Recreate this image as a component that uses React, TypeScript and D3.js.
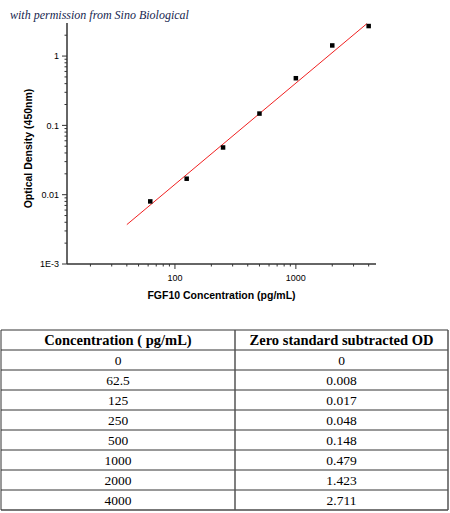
import * as React from 'react';
import * as d3 from 'd3';

// standard curve values (pg/mL vs OD)
const concentrations = [0, 62.5, 125, 250, 500, 1000, 2000, 4000];
const odValues = [0, 0.008, 0.017, 0.048, 0.148, 0.479, 1.423, 2.711];
const concLabels = ['0', '62.5', '125', '250', '500', '1000', '2000', '4000'];
const odLabels = ['0', '0.008', '0.017', '0.048', '0.148', '0.479', '1.423', '2.711'];
const tableHeaders = ['Concentration ( pg/mL)', 'Zero standard subtracted OD'];

// fitted line endpoints
const fitConc = [40, 3880];
const fitOd = [0.0037, 2.95];

const yMajorTicks = [0.001, 0.01, 0.1, 1];
const yTickLabels = ['1E-3', '0.01', '0.1', '1'];
const xMajorTicks = [100, 1000];
const xTickLabels = ['100', '1000'];

const W = 450;
const H = 513;
const plot = { left: 67, right: 376, top: 23, bottom: 264 };
const table = { left: 1, right: 448, top: 330, rowH: 20, split: 235 };

const sans = '"Liberation Sans", Arial, sans-serif';
const serif = '"Liberation Serif", "Times New Roman", serif';

export default function App() {
    const x = d3.scaleLog().domain([12.8, 4600]).range([plot.left, plot.right]);
    const y = d3.scaleLog().domain([0.001, 3]).range([plot.bottom, plot.top]);

    const xMinor: number[] = [];
    [10, 100, 1000].forEach(base => {
        for (let k = 2; k <= 9; k++) {
            const v = base * k;
            if (v > x.domain()[0] && v < x.domain()[1]) xMinor.push(v);
        }
    });
    const yMinor: number[] = [];
    [0.001, 0.01, 0.1, 1].forEach(base => {
        for (let k = 2; k <= 9; k++) {
            const v = base * k;
            if (v < y.domain()[1]) yMinor.push(v);
        }
    });

    const points = concentrations
        .map((c, i) => ({ c, od: odValues[i] }))
        .filter(d => d.c > 0 && d.od > 0);

    const fit = fitConc.map((c, i) => ({ c, od: fitOd[i] }));
    const fitPath = d3.line<{ c: number, od: number }>()
        .x(d => x(d.c))
        .y(d => y(d.od))(fit) || '';

    const rows = concLabels.map((c, i) => [c, odLabels[i]]);
    const nRows = rows.length + 1;
    const tableBottom = table.top + nRows * table.rowH;
    const colCenters = [(table.left + table.split) / 2, (table.split + table.right) / 2];

    return <svg width={W} height={H} style={{ position: 'absolute', left: 0, top: 0, background: '#fff' }}>
        <text x={10} y={18.5} fontFamily={serif} fontStyle="italic" fontSize={12} fill="#17264f">
            with permission from Sino Biological
        </text>

        {/* axes */}
        <line x1={plot.left} x2={plot.left} y1={plot.top} y2={plot.bottom} stroke="#333" strokeWidth={1.5} />
        <line x1={plot.left} x2={plot.right} y1={plot.bottom} y2={plot.bottom} stroke="#333" strokeWidth={1.5} />

        {yMinor.map(v =>
            <line key={'ym' + v} x1={plot.left - 2.5} x2={plot.left} y1={y(v)} y2={y(v)} stroke="#333" strokeWidth={1} />)}
        {yMajorTicks.map((v, i) =>
            <g key={'yM' + v}>
                <line x1={plot.left - 5} x2={plot.left} y1={y(v)} y2={y(v)} stroke="#333" strokeWidth={1} />
                <text x={plot.left - 8} y={y(v) + 3.2} textAnchor="end" fontFamily={sans} fontSize={9} fill="#000">
                    {yTickLabels[i]}
                </text>
            </g>)}

        {xMinor.map(v =>
            <line key={'xm' + v} x1={x(v)} x2={x(v)} y1={plot.bottom} y2={plot.bottom + 2.5} stroke="#333" strokeWidth={1} />)}
        {xMajorTicks.map((v, i) =>
            <g key={'xM' + v}>
                <line x1={x(v)} x2={x(v)} y1={plot.bottom} y2={plot.bottom + 5} stroke="#333" strokeWidth={1} />
                <text x={x(v)} y={plot.bottom + 17} textAnchor="middle" fontFamily={sans} fontSize={9} fill="#000">
                    {xTickLabels[i]}
                </text>
            </g>)}

        <text transform={`translate(32,${(plot.top + plot.bottom) / 2 + 5}) rotate(-90)`} textAnchor="middle"
            fontFamily={sans} fontWeight="bold" fontSize={10.5} fill="#000">
            Optical Density (450nm)
        </text>
        <text x={(plot.left + plot.right) / 2} y={299} textAnchor="middle"
            fontFamily={sans} fontWeight="bold" fontSize={10.5} fill="#000">
            FGF10 Concentration (pg/mL)
        </text>

        <path d={fitPath} stroke="#f02020" strokeWidth={1} fill="none" />
        {points.map(d =>
            <rect key={d.c} x={x(d.c) - 2.25} y={y(d.od) - 2.25} width={4.5} height={4.5} fill="#000" />)}

        {/* table */}
        {d3.range(nRows + 1).map(r =>
            <line key={'tr' + r} x1={table.left} x2={table.right}
                y1={table.top + r * table.rowH} y2={table.top + r * table.rowH}
                stroke={r === nRows ? '#777' : '#333'} strokeWidth={r === nRows ? 2 : 1} />)}
        <line x1={table.left} x2={table.left} y1={table.top} y2={tableBottom} stroke="#333" strokeWidth={1} />
        <line x1={table.split} x2={table.split} y1={table.top} y2={tableBottom} stroke="#555" strokeWidth={1.5} />
        <line x1={table.right} x2={table.right} y1={table.top} y2={tableBottom} stroke="#555" strokeWidth={1.5} />

        {tableHeaders.map((h, i) =>
            <text key={h} x={colCenters[i]} y={table.top + 15} textAnchor="middle"
                fontFamily={serif} fontWeight="bold" fontSize={14.5} fill="#000">{h}</text>)}
        {rows.map((row, r) => row.map((cell, i) =>
            <text key={r + '-' + i} x={colCenters[i]} y={table.top + (r + 1) * table.rowH + 15} textAnchor="middle"
                fontFamily={serif} fontSize={13.5} fill="#000">{cell}</text>))}
    </svg>;
}
